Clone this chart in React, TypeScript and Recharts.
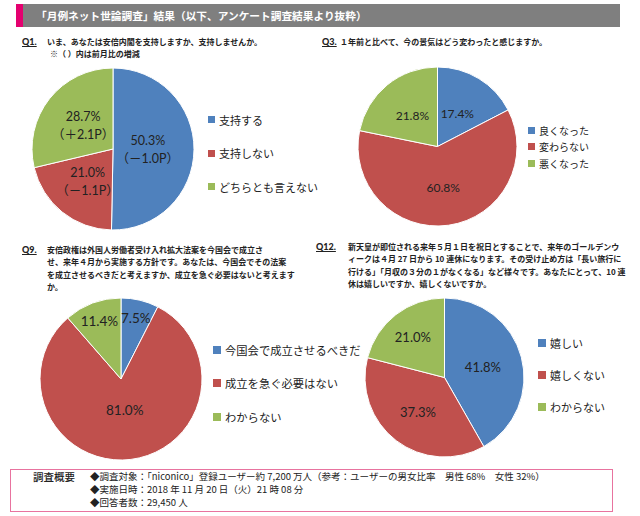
import React from "react";
import { PieChart, Pie, Legend } from "recharts";

// Q1 内閣支持
const q1Names = ["支持する", "支持しない", "どちらとも言えない"];
const q1Values = [50.3, 21.0, 28.7];
const q1Changes = ["（－1.0P）", "（－1.1P）", "（＋2.1P）"];

// Q3 景気
const q3Names = ["良くなった", "変わらない", "悪くなった"];
const q3Values = [17.4, 60.8, 21.8];

// Q9 外国人労働者受け入れ拡大法案
const q9Names = ["今国会で成立させるべきだ", "成立を急ぐ必要はない", "わからない"];
const q9Values = [7.5, 81.0, 11.4];

// Q12 10連休
const q12Names = ["嬉しい", "嬉しくない", "わからない"];
const q12Values = [41.8, 37.3, 21.0];

const COLORS = ["#4f81bd", "#c0504d", "#9bbb59"];
const RADIAN = Math.PI / 180;
const JP = "'Noto Sans CJK JP', 'Noto Sans', sans-serif";
const NUM = "Lato, 'Noto Sans CJK JP', sans-serif";

interface PanelProps {
  names: string[];
  values: number[];
  subLabels?: string[];
  left: number;
  top: number;
  width: number;
  height: number;
  cx: number;
  cy: number;
  r: number;
  labelRadii: number[];
  labelSize: number;
  legendX: number;
  legendTop: number;
  legendGap: number;
  legendSize: number;
  square: number;
}

function PiePanel(p: PanelProps) {
  const data = p.names.map((name, i) => ({ name, value: p.values[i], fill: COLORS[i] }));

  const renderLabel = (props: any) => {
    const { cx, cy, midAngle, outerRadius, index } = props;
    const f = p.labelRadii[index];
    const x = cx + outerRadius * f * Math.cos(-midAngle * RADIAN);
    const y = cy + outerRadius * f * Math.sin(-midAngle * RADIAN);
    const main = `${p.values[index].toFixed(1)}%`;
    if (p.subLabels) {
      return (
        <text x={x} y={y} textAnchor="middle" fill="#222" fontSize={p.labelSize} fontFamily={NUM}>
          <tspan x={x} dy={-4}>{main}</tspan>
          <tspan x={x} dy={18}>{p.subLabels[index]}</tspan>
        </text>
      );
    }
    return (
      <text x={x} y={y} textAnchor="middle" dominantBaseline="central" fill="#222" fontSize={p.labelSize} fontFamily={NUM}>
        {main}
      </text>
    );
  };

  // legend keeps the series order (Recharts sorts its payload by default)
  const renderLegend = () => (
    <div>
      {data.map((d, i) => (
        <div key={i} style={{ display: "flex", alignItems: "center", height: p.legendGap, whiteSpace: "nowrap" }}>
          <span style={{ width: p.square, height: p.square, background: d.fill, marginRight: 4, display: "inline-block" }} />
          <span style={{ fontSize: p.legendSize, fontFamily: JP, color: "#222" }}>{d.name}</span>
        </div>
      ))}
    </div>
  );

  return (
    <div style={{ position: "absolute", left: p.left, top: p.top }}>
      <PieChart width={p.width} height={p.height} margin={{ top: 0, right: 0, bottom: 0, left: 0 }}>
        <Pie
          data={data}
          dataKey="value"
          nameKey="name"
          cx={p.cx}
          cy={p.cy}
          outerRadius={p.r}
          startAngle={90}
          endAngle={-270}
          stroke="#ffffff"
          strokeWidth={1}
          label={renderLabel}
          labelLine={false}
          isAnimationActive={false}
        />
        <Legend
          layout="vertical"
          content={renderLegend}
          wrapperStyle={{ left: p.legendX, top: p.legendTop, width: "auto", bottom: "auto" }}
        />
      </PieChart>
    </div>
  );
}

const qStyle: React.CSSProperties = {
  position: "absolute",
  fontFamily: JP,
  fontWeight: 700,
  fontSize: 8,
  lineHeight: "12.3px",
  color: "#222",
  whiteSpace: "nowrap",
};

function QLabel({ x, y, text }: { x: number; y: number; text: string }) {
  return (
    <div style={{ ...qStyle, left: x, top: y, fontSize: 9, textDecoration: "underline", fontFamily: "Lato, sans-serif", fontWeight: 900 }}>
      {text}
    </div>
  );
}

export default function App() {
  return (
    <div style={{ position: "relative", width: 640, height: 516, background: "#fff", overflow: "hidden" }}>
      <style>{`body{margin:0}`}</style>

      {/* 見出しバー */}
      <div style={{ position: "absolute", left: 16, top: 4, width: 604, height: 23, background: "#7f7f7f" }} />
      <div style={{ position: "absolute", left: 16, top: 4, width: 7, height: 23, background: "#e4006f" }} />
      <div style={{ position: "absolute", left: 36, top: 4, height: 23, lineHeight: "23px", color: "#fff", fontFamily: JP, fontWeight: 700, fontSize: 10.7, whiteSpace: "nowrap" }}>
        「月例ネット世論調査」結果（以下、アンケート調査結果より抜粋）
      </div>

      {/* Q1 */}
      <QLabel x={22} y={36} text="Q1." />
      <div style={{ ...qStyle, left: 47, top: 36 }}>いま、あなたは安倍内閣を支持しますか、支持しませんか。</div>
      <div style={{ ...qStyle, left: 50, top: 48 }}>※（ ）内は前月比の増減</div>

      {/* Q3 */}
      <QLabel x={322} y={36} text="Q3." />
      <div style={{ ...qStyle, left: 340, top: 36 }}>１年前と比べて、今の景気はどう変わったと感じますか。</div>

      {/* Q9 */}
      <QLabel x={22} y={244} text="Q9." />
      <div style={{ ...qStyle, left: 47, top: 244 }}>
        安倍政権は外国人労働者受け入れ拡大法案を今国会で成立さ<br />
        せ、来年４月から実施する方針です。あなたは、今国会でその法案<br />
        を成立させるべきだと考えますか、成立を急ぐ必要はないと考えます<br />
        か。
      </div>

      {/* Q12 */}
      <QLabel x={316} y={241} text="Q12." />
      <div style={{ ...qStyle, left: 348, top: 241 }}>
        新天皇が即位される来年５月１日を祝日とすることで、来年のゴールデンウ<br />
        ィークは４月 27 日から 10 連休になります。その受け止め方は「長い旅行に<br />
        行ける」「月収の３分の１がなくなる」など様々です。あなたにとって、10 連<br />
        休は嬉しいですか、嬉しくないですか。
      </div>

      <PiePanel
        names={q1Names} values={q1Values} subLabels={q1Changes}
        left={0} top={60} width={320} height={180}
        cx={113} cy={89} r={81}
        labelRadii={[0.43, 0.5, 0.47]} labelSize={12.5}
        legendX={208} legendTop={43} legendGap={33.5} legendSize={11} square={7}
      />
      <PiePanel
        names={q3Names} values={q3Values}
        left={320} top={60} width={320} height={180}
        cx={117.5} cy={86.5} r={79.5}
        labelRadii={[0.48, 0.52, 0.5]} labelSize={12}
        legendX={208} legendTop={62} legendGap={16.5} legendSize={10} square={7}
      />
      <PiePanel
        names={q12Names} values={q12Values}
        left={320} top={290} width={320} height={175}
        cx={124.5} cy={87.5} r={79.5}
        labelRadii={[0.5, 0.55, 0.65]} labelSize={13}
        legendX={218} legendTop={37} legendGap={32} legendSize={11} square={8}
      />
      <PiePanel
        names={q9Names} values={q9Values}
        left={0} top={290} width={400} height={175}
        cx={121} cy={89} r={81}
        labelRadii={[0.78, 0.38, 0.76]} labelSize={13.5}
        legendX={213} legendTop={43} legendGap={33.5} legendSize={11.3} square={8}
      />

      {/* 調査概要 */}
      <div style={{ position: "absolute", left: 10, top: 469, width: 601, height: 41, border: "1.5px solid #e8739f" }} />
      <div style={{ position: "absolute", left: 33, top: 470, fontFamily: JP, fontSize: 10.5, fontWeight: 500, color: "#222", lineHeight: "14px" }}>調査概要</div>
      <div style={{ position: "absolute", left: 90, top: 470, fontFamily: JP, fontSize: 9.5, color: "#222", lineHeight: "13.2px", whiteSpace: "nowrap" }}>
        ◆調査対象：「niconico」登録ユーザー約 7,200 万人（参考：ユーザーの男女比率　男性 68%　女性 32%）<br />
        ◆実施日時：2018 年 11 月 20 日（火）21 時 08 分<br />
        ◆回答者数：29,450 人
      </div>
    </div>
  );
}
